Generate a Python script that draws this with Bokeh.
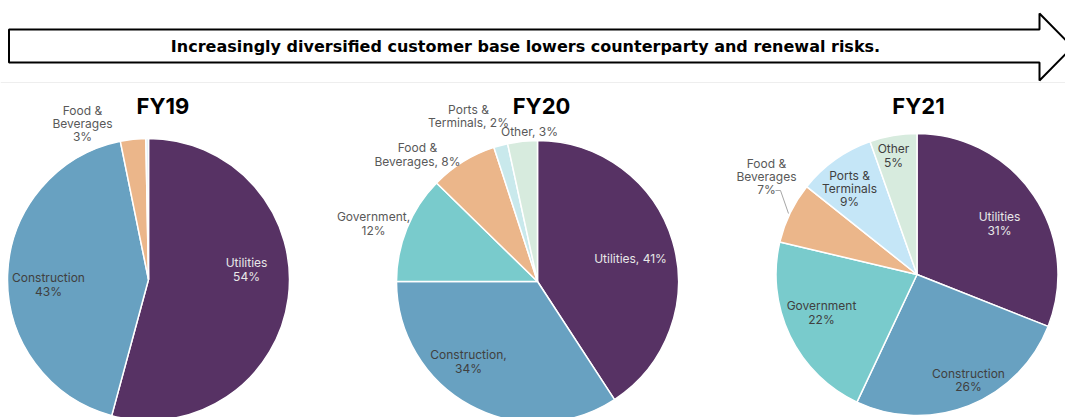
import numpy as np
from bokeh.plotting import figure
from bokeh.models import Range1d, ColumnDataSource
from bokeh.core.properties import value
from bokeh.embed import file_html
from bokeh.resources import INLINE

# ---------------- data ----------------
categories = ["Utilities", "Construction", "Government", "Food & Beverages", "Ports & Terminals", "Other"]
years = ["FY19", "FY20", "FY21"]
fy19 = [54.2, 42.6, 0.0, 2.9, 0.3, 0.0]
fy20 = [40.8, 34.2, 12.3, 7.7, 1.6, 3.4]
fy21 = [31.0, 26.0, 21.7, 7.0, 8.9, 5.4]
banner_text = "Increasingly diversified customer base lowers counterparty and renewal risks."

# display names per chart (None = no label)
names19 = ["Utilities\n", "Construction\n", None, "Food &\nBeverages\n", None, None]
names20 = ["Utilities, ", "Construction,\n", "Government,\n", "Food &\nBeverages, ", "Ports &\nTerminals, ", "Other, "]
names21 = ["Utilities\n", "Construction\n", "Government\n", "Food &\nBeverages\n", "Ports &\nTerminals\n", "Other\n"]

# ---------------- style / layout ----------------
W, H = 1065, 417
def Y(yi):
    return 417 - yi

colors_base = ["#573264", "#68A1C1", "#79CBCC", "#EBB68A", "#C5E6F7", "#D7EBDE"]
colors20 = ["#573264", "#68A1C1", "#79CBCC", "#EBB68A", "#C9E9EC", "#D7EBDE"]
colors19 = ["#573264", "#68A1C1", "#79CBCC", "#EBB68A", "#DCEFF8", "#D7EBDE"]

centers = [(148, 279), (537, 281), (916.5, 274)]
radius = 141
title_pos = [(162.5, 105.5), (541, 105.5), (918, 105.5)]

label_pos19 = [(246, 269), (48, 284), None, (82, 123), None, None]
label_pos20 = [(630, 258), (468, 361), (373, 223), (417, 154), (468, 115.5), (529, 131)]
label_pos21 = [(999, 223), (968, 379.5), (821, 312), (766, 176), (849, 188), (893, 155)]

DARK = "#404040"
GRAY = "#595959"
LIGHT = "#E8E8E8"
label_col19 = [LIGHT, DARK, DARK, GRAY, GRAY, GRAY]
label_col20 = [LIGHT, DARK, GRAY, GRAY, GRAY, GRAY]
label_col21 = [LIGHT, DARK, DARK, GRAY, DARK, DARK]

p = figure(width=W, height=H, x_range=Range1d(0, 1065), y_range=Range1d(0, 417),
           output_backend="svg", toolbar_location=None, min_border=0)
p.axis.visible = False
p.xgrid.visible = False
p.ygrid.visible = False
p.outline_line_color = None
p.background_fill_color = "white"

# ---- banner arrow ----
ax = [8.5, 1039, 1039, 1072, 1039, 1039, 8.5]
ay = [29, 29, 13, 46.5, 80, 62, 62]
p.patch(ax, [Y(v) for v in ay], fill_color="white", line_color="black", line_width=2)
p.line([0, 1065], [Y(82), Y(82)], line_color="#EEEEEE", line_width=1)
p.text(x=[525], y=[Y(46)], text=[banner_text], text_font=value("DejaVu Sans"), text_font_style="bold",
       text_font_size="16px", text_align="center", text_baseline="middle", text_color="black")

# ---- pies ----
all_vals = [fy19, fy20, fy21]
all_names = [names19, names20, names21]
all_cols = [colors19, colors20, colors_base]
all_lpos = [label_pos19, label_pos20, label_pos21]
all_lcol = [label_col19, label_col20, label_col21]

for i, vals in enumerate(all_vals):
    v = np.array(vals, dtype=float)
    frac = v / v.sum()
    cum = np.concatenate([[0], np.cumsum(frac)])
    starts = np.pi / 2 - 2 * np.pi * cum[:-1]
    ends = np.pi / 2 - 2 * np.pi * cum[1:]
    keep = v > 0
    cx, cy = centers[i]
    src = ColumnDataSource(dict(
        x=[cx] * int(keep.sum()), y=[Y(cy)] * int(keep.sum()),
        start=list(starts[keep]), end=list(ends[keep]),
        color=[c for c, k in zip(all_cols[i], keep) if k]))
    p.wedge(x="x", y="y", radius=radius, start_angle="start", end_angle="end", direction="clock",
            fill_color="color", line_color="white", line_width=1.5, source=src)

    # labels
    lx, ly, lt, lc = [], [], [], []
    for j, nm in enumerate(all_names[i]):
        if nm is None or all_lpos[i][j] is None:
            continue
        lx.append(all_lpos[i][j][0])
        ly.append(Y(all_lpos[i][j][1]))
        lt.append(f"{nm}{int(round(vals[j]))}%")
        lc.append(all_lcol[i][j])
    p.text(x=lx, y=ly, text=lt, text_color=lc, text_font=value("Inter"), text_font_size="12px",
           text_align="center", text_baseline="middle", text_line_height=0.88)

    # title
    p.text(x=[title_pos[i][0]], y=[Y(title_pos[i][1])], text=[years[i]], text_font=value("Inter"),
           text_font_style="bold", text_font_size="22px", text_align="center",
           text_baseline="middle", text_color="black")

# leader line FY21 Food & Beverages
p.line([775, 780, 788], [Y(190), Y(190), Y(213)], line_color="#A6A6A6", line_width=1)

open("out.html", "w").write(file_html(p, INLINE))
